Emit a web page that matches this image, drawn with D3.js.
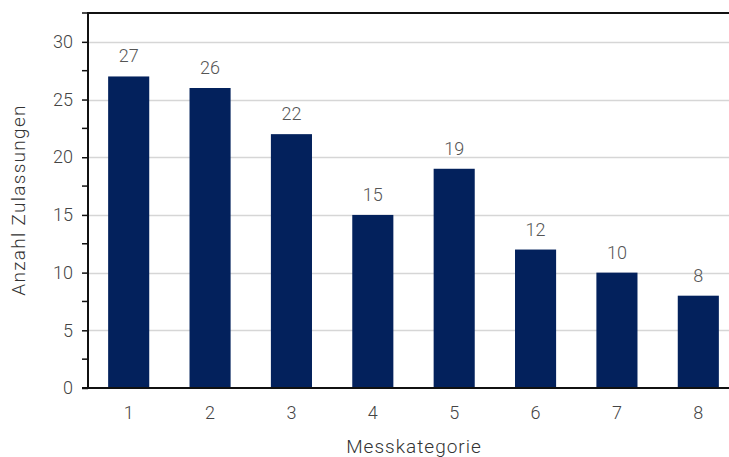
<!DOCTYPE html>
<html>
<head>
<meta charset="utf-8">
<script src="https://cdn.jsdelivr.net/npm/d3@7"></script>
<style>
  html, body { margin: 0; padding: 0; background: #fff; }
  svg { display: block; font-family: Roboto, "Noto Sans", sans-serif; font-weight: 300; }
</style>
</head>
<body>
<svg id="chart" width="729" height="457"></svg>
<script>
// Zulassungen je Messkategorie
const categories = ["1", "2", "3", "4", "5", "6", "7", "8"];
const values = [27, 26, 22, 15, 19, 12, 10, 8];
const yTickLabels = [0, 5, 10, 15, 20, 25, 30];
const yMinorTicks = [2.5, 7.5, 12.5, 17.5, 22.5, 27.5, 32.5];

const svg = d3.select("#chart");
const margin = { left: 88, top: 13, bottom: 69 };
const plotW = 651;
const plotH = 457 - margin.top - margin.bottom;

const x = d3.scaleBand().domain(categories).range([margin.left, margin.left + plotW]).paddingInner(0.495).paddingOuter(0.2475);
const y = d3.scaleLinear().domain([0, 32.5]).range([margin.top + plotH, margin.top]);

// horizontal grid lines
svg.append("g")
  .selectAll("line")
  .data(yTickLabels.filter(d => d > 0))
  .join("line")
  .attr("x1", margin.left).attr("x2", margin.left + plotW)
  .attr("y1", d => Math.round(y(d)) + 0.5).attr("y2", d => Math.round(y(d)) + 0.5)
  .attr("stroke", "#d6d6d6").attr("stroke-width", 1.5);

// top frame
svg.append("line")
  .attr("x1", margin.left).attr("x2", margin.left + plotW)
  .attr("y1", y(32.5)).attr("y2", y(32.5))
  .attr("stroke", "#111").attr("stroke-width", 2);

// bars
svg.append("g")
  .selectAll("rect")
  .data(values)
  .join("rect")
  .attr("x", (d, i) => x(categories[i]))
  .attr("width", x.bandwidth())
  .attr("y", d => y(d))
  .attr("height", d => y(0) - y(d))
  .attr("fill", "#03215c");

// value labels
svg.append("g")
  .selectAll("text")
  .data(values)
  .join("text")
  .attr("x", (d, i) => x(categories[i]) + x.bandwidth() / 2)
  .attr("y", d => y(d) - 14)
  .attr("text-anchor", "middle")
  .attr("fill", "#555")
  .attr("font-size", 18)
  .text(d => d);

// y axis
const yAxis = svg.append("g")
  .attr("transform", `translate(${margin.left},0)`)
  .call(d3.axisLeft(y).tickValues(yTickLabels).tickSize(6).tickPadding(9).tickFormat(d3.format("d")));
yAxis.select(".domain").remove();
yAxis.selectAll(".tick line").attr("stroke", "#111").attr("stroke-width", 1.5);
yAxis.selectAll(".tick text").attr("fill", "#444").attr("font-size", 18).attr("font-family", "Roboto, sans-serif").attr("font-weight", 300);

svg.append("g")
  .selectAll("line")
  .data(yMinorTicks)
  .join("line")
  .attr("x1", margin.left - 6).attr("x2", margin.left)
  .attr("y1", d => y(d)).attr("y2", d => y(d))
  .attr("stroke", "#111").attr("stroke-width", 1.5);

svg.append("line")
  .attr("x1", margin.left).attr("x2", margin.left)
  .attr("y1", y(32.5) - 1).attr("y2", y(0))
  .attr("stroke", "#111").attr("stroke-width", 2);

// x axis
const xAxis = svg.append("g")
  .attr("transform", `translate(0,${y(0)})`)
  .call(d3.axisBottom(x).tickSize(0).tickPadding(18));
xAxis.select(".domain").remove();
xAxis.selectAll(".tick text").attr("fill", "#444").attr("font-size", 18).attr("font-family", "Roboto, sans-serif").attr("font-weight", 300);

svg.append("line")
  .attr("x1", margin.left - 6).attr("x2", margin.left + plotW)
  .attr("y1", y(0)).attr("y2", y(0))
  .attr("stroke", "#111").attr("stroke-width", 2);

// axis titles
svg.append("text")
  .attr("x", 414).attr("y", 453)
  .attr("text-anchor", "middle")
  .attr("fill", "#333").attr("font-size", 19)
  .attr("letter-spacing", 1)
  .text("Messkategorie");

svg.append("text")
  .attr("transform", "translate(25,200) rotate(-90)")
  .attr("text-anchor", "middle")
  .attr("fill", "#333").attr("font-size", 19)
  .attr("letter-spacing", 1.3)
  .text("Anzahl Zulassungen");
</script>
</body>
</html>
